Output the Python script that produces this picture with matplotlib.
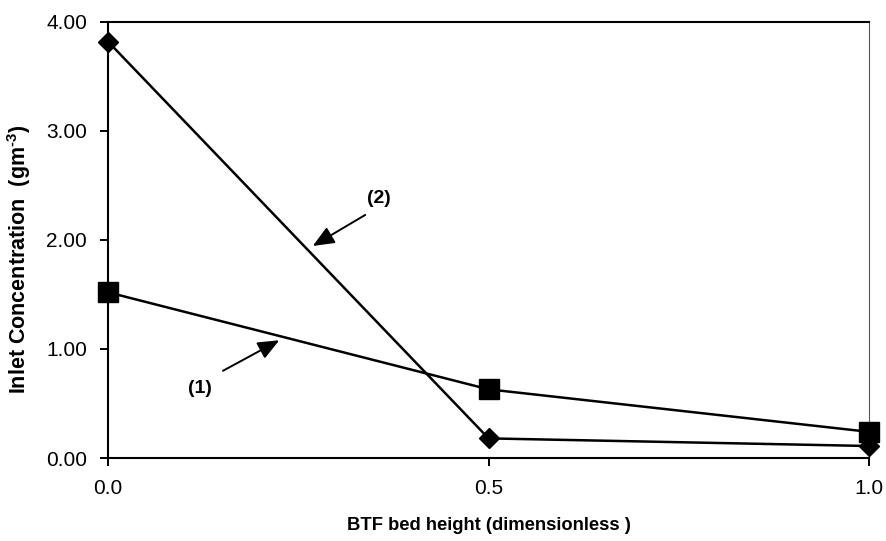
import matplotlib
matplotlib.use('Agg')
import matplotlib.pyplot as plt

plt.rcParams['font.family'] = ['Liberation Sans', 'DejaVu Sans']
plt.rcParams['mathtext.fontset'] = 'custom'
plt.rcParams['mathtext.rm'] = 'Liberation Sans:bold'
plt.rcParams['mathtext.bf'] = 'Liberation Sans:bold'

# Datos
bed_height = [0.0, 0.5, 1.0]
conc_1 = [1.52, 0.63, 0.24]
conc_2 = [3.82, 0.18, 0.11]
x_ticks = [0.0, 0.5, 1.0]
y_ticks = [0.0, 1.0, 2.0, 3.0, 4.0]

fig = plt.figure(figsize=(8.87, 5.41), dpi=100)
ax = fig.add_axes([0.1218, 0.1534, 0.858, 0.806])

ax.plot(bed_height, conc_1, color='k', lw=1.8, marker='s', ms=14, clip_on=False, zorder=3)
ax.plot(bed_height, conc_2, color='k', lw=1.8, marker='D', ms=10.5, clip_on=False, zorder=3)

ax.set_xlim(0.0, 1.0)
ax.set_ylim(0.0, 4.0)
ax.set_xticks(x_ticks)
ax.set_xticklabels([f'{v:.1f}' for v in x_ticks])
ax.set_yticks(y_ticks)
ax.set_yticklabels([f'{v:.2f}' for v in y_ticks])
ax.tick_params(direction='out', length=6, width=1.4, labelsize=15, pad=9)
for s in ax.spines.values():
    s.set_linewidth(1.5)
ax.spines['right'].set_linewidth(0.8)
ax.spines['right'].set_color('#555555')

ax.set_xlabel('BTF bed height (dimensionless )', fontsize=13.2, fontweight='bold', labelpad=14)
ax.set_ylabel('Inlet Concentration  (gm$^{\\text{-3}}$)', fontsize=15.5, fontweight='bold')
ax.yaxis.set_label_coords(-0.099, 0.455)

arrow = dict(arrowstyle='-|>,head_length=1.3,head_width=0.55', color='k', lw=1.4, shrinkA=0, shrinkB=0)
ax.annotate('', xy=(0.269, 1.945), xytext=(0.338, 2.23), arrowprops=arrow)
ax.text(0.356, 2.385, '(2)', ha='center', va='center', fontsize=14, fontweight='bold')
ax.annotate('', xy=(0.225, 1.08), xytext=(0.151, 0.80), arrowprops=arrow)
ax.text(0.121, 0.64, '(1)', ha='center', va='center', fontsize=14, fontweight='bold')

fig.savefig('out.png', dpi=100)
